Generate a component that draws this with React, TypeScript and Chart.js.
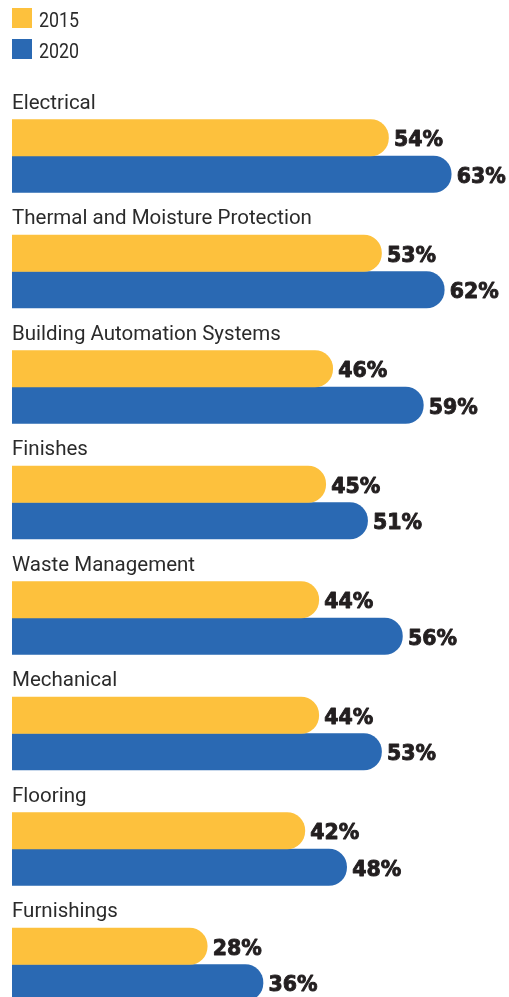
import React, { useEffect, useRef } from "react";
import { Chart, registerables } from "chart.js";

Chart.register(...registerables);

const categories = [
  "Electrical",
  "Thermal and Moisture Protection",
  "Building Automation Systems",
  "Finishes",
  "Waste Management",
  "Mechanical",
  "Flooring",
  "Furnishings",
];
const seriesNames = ["2015", "2020"];
const values2015 = [54, 53, 46, 45, 44, 44, 42, 28];
const values2020 = [63, 62, 59, 51, 56, 53, 48, 36];
const colors = ["#FDC13D", "#2A69B3"];

const overlayPlugin = {
  id: "overlay",
  afterDatasetsDraw(chart: any) {
    const ctx = chart.ctx as CanvasRenderingContext2D;
    ctx.save();
    // legend
    seriesNames.forEach((name, i) => {
      const y = 8 + i * 31;
      ctx.fillStyle = colors[i];
      ctx.fillRect(12, y, 20, 20);
      ctx.fillStyle = "#2b2b2b";
      ctx.font = "21px Roboto";
      ctx.textBaseline = "alphabetic";
      ctx.textAlign = "left";
      ctx.save();
      ctx.translate(39, y + 19);
      ctx.scale(0.85, 1);
      ctx.fillText(name, 0, 0);
      ctx.restore();
    });
    // category labels
    const meta0 = chart.getDatasetMeta(0);
    meta0.data.forEach((el: any, i: number) => {
      const top = el.y - el.height / 2;
      ctx.fillStyle = "#2b2b2b";
      ctx.font = "20.5px Roboto";
      ctx.textAlign = "left";
      ctx.textBaseline = "alphabetic";
      ctx.fillText(categories[i], 12, top - 11);
    });
    // value labels
    chart.data.datasets.forEach((ds: any, di: number) => {
      const meta = chart.getDatasetMeta(di);
      meta.data.forEach((el: any, i: number) => {
        const txt = ds.data[i] + "%";
        ctx.fillStyle = "#231f20";
        ctx.strokeStyle = "#231f20";
        ctx.lineWidth = 0.9;
        ctx.lineJoin = "round";
        ctx.font = "bold 20.5px 'DejaVu Sans'";
        ctx.textAlign = "left";
        ctx.textBaseline = "alphabetic";
        ctx.fillText(txt, el.x + 5.5, el.y + 8.5);
        ctx.strokeText(txt, el.x + 5.5, el.y + 8.5);
      });
    });
    ctx.restore();
  },
};

export default function App() {
  const ref = useRef<HTMLCanvasElement>(null);
  useEffect(() => {
    if (!ref.current) return;
    const chart = new Chart(ref.current, {
      type: "bar",
      data: {
        labels: categories,
        datasets: [
          {
            label: seriesNames[0],
            data: values2015,
            backgroundColor: colors[0],
            borderWidth: 0,
            borderRadius: 18,
            barThickness: 36.5,
          },
          {
            label: seriesNames[1],
            data: values2020,
            backgroundColor: colors[1],
            borderWidth: 0,
            borderRadius: 18,
            barThickness: 36.5,
          },
        ],
      },
      options: {
        indexAxis: "y",
        responsive: false,
        animation: false,
        devicePixelRatio: 1,
        layout: { padding: { left: 12, right: 9, top: 98.25, bottom: 7.75 } },
        scales: {
          x: { display: false, min: 0, max: 70 },
          y: { display: false, offset: true },
        },
        plugins: {
          legend: { display: false },
          tooltip: { enabled: false },
        },
      },
      plugins: [overlayPlugin],
    } as any);
    return () => chart.destroy();
  }, []);
  return (
    <div
      style={{
        position: "fixed",
        left: 0,
        top: 0,
        width: 509,
        height: 997,
        overflow: "hidden",
        background: "#fff",
      }}
    >
      <canvas ref={ref} width={509} height={1030} />
    </div>
  );
}
